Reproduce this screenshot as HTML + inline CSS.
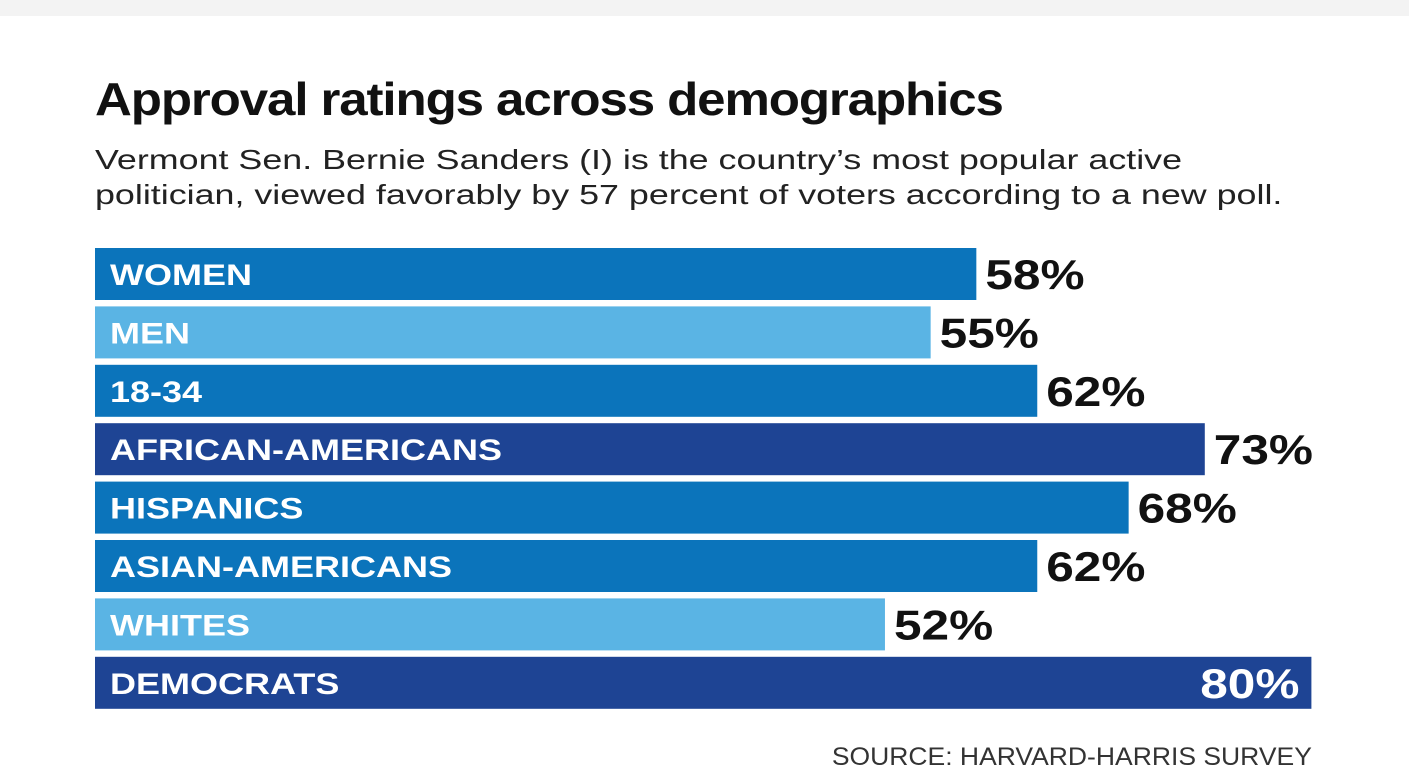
<!DOCTYPE html>
<html><head><meta charset="utf-8"><style>
body{margin:0;background:#fff;width:1409px;height:784px;overflow:hidden;font-family:"Liberation Sans",sans-serif;position:relative}
#top{position:absolute;left:0;top:0;width:1409px;height:16px;background:#f3f3f3}
h1{position:absolute;left:95px;top:72px;margin:0;font-size:46px;font-weight:bold;letter-spacing:-1px;color:#111;transform-origin:0 0;transform:scaleX(1.11);white-space:nowrap}
.sub{position:absolute;left:95px;top:142px;font-size:28px;line-height:35px;color:#222;margin:0;transform-origin:0 0;transform:scaleX(1.28);white-space:nowrap}
.src{position:absolute;right:97px;top:743px;font-size:25px;color:#333;transform-origin:100% 0;transform:scaleX(1.06);white-space:nowrap}
</style></head><body>
<div id="top"></div>
<h1>Approval ratings across demographics</h1>
<p class="sub">Vermont Sen. Bernie Sanders (I) is the country’s most popular active<br>politician, viewed favorably by 57 percent of voters according to a new poll.</p>
<svg id="chart" width="1409" height="784" style="position:absolute;left:0;top:0"></svg>
<div class="src">SOURCE: HARVARD-HARRIS SURVEY</div>
<script>
const categories=["WOMEN","MEN","18-34","AFRICAN-AMERICANS","HISPANICS","ASIAN-AMERICANS","WHITES","DEMOCRATS"];
const values=[58,55,62,73,68,62,52,80];
const shades=["mid","light","mid","dark","mid","mid","light","dark"];
const palette={mid:"#0b74bb",light:"#5ab4e4",dark:"#1e4494"};
const x=v=>93+v*15.23;
const y=i=>248+i*58.4;
const ns="http://www.w3.org/2000/svg";
const svg=document.getElementById('chart');
function stretch(t,f){const w=t.getComputedTextLength();t.setAttribute('textLength',w*f);t.setAttribute('lengthAdjust','spacingAndGlyphs');}
categories.forEach((c,i)=>{
  const r=document.createElementNS(ns,'rect');
  r.setAttribute('x',95);r.setAttribute('y',y(i));
  r.setAttribute('width',x(values[i])-95);r.setAttribute('height',52);
  r.setAttribute('fill',palette[shades[i]]);
  
  
  svg.appendChild(r);
  const t=document.createElementNS(ns,'text');
  t.setAttribute('x',110);t.setAttribute('y',y(i)+37);
  t.setAttribute('fill','#fff');t.setAttribute('font-size','30');t.setAttribute('font-weight','bold');
  t.setAttribute('font-family','Liberation Sans, sans-serif');
  t.textContent=c;
  
  
  svg.appendChild(t);
  stretch(t,1.2);
  const v=document.createElementNS(ns,'text');
  const inside=i===categories.length-1;
  v.setAttribute('x',inside?x(values[i])-12:x(values[i])+9);
  v.setAttribute('y',y(i)+41);
  v.setAttribute('text-anchor',inside?'end':'start');
  v.setAttribute('fill',inside?'#fff':'#111');
  v.setAttribute('font-size','42');v.setAttribute('font-weight','bold');
  v.setAttribute('font-family','Liberation Sans, sans-serif');
  v.textContent=values[i]+'%';
  
  
  svg.appendChild(v);
  stretch(v,1.18);
});
</script>
</body></html>
